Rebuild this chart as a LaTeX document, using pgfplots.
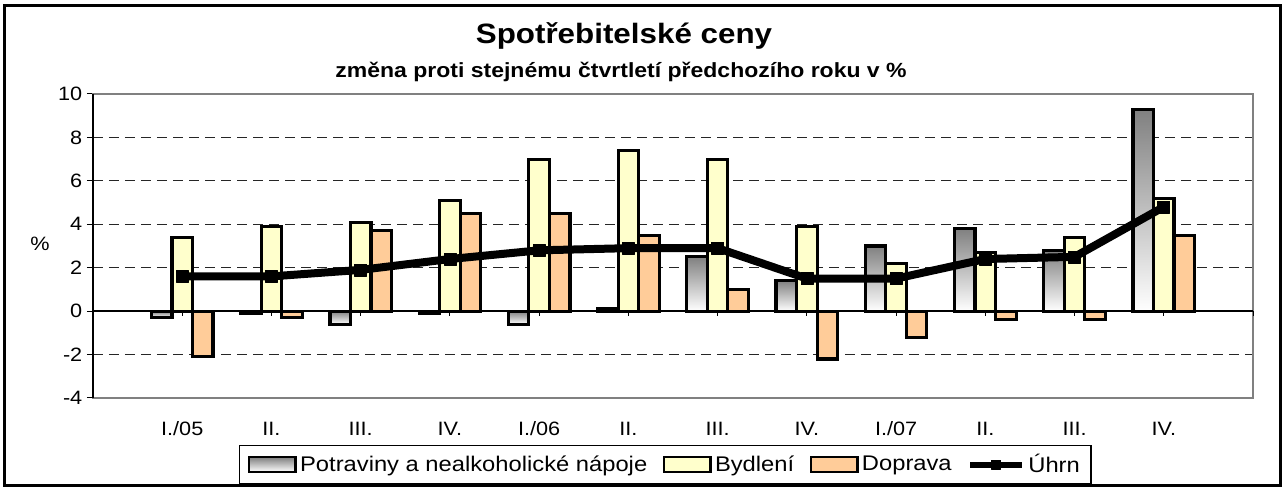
\documentclass[border=0pt]{standalone}
\usepackage{pgfplots}
\pgfplotsset{compat=1.18}
\usepackage{fontspec}
\setmainfont{Liberation Sans}[FakeStretch=1.12]
\definecolor{barY}{RGB}{255,255,204}
\definecolor{barO}{RGB}{255,204,153}
\definecolor{bord}{RGB}{128,128,128}
\pgfplotsset{
  barleg/.style={legend image code/.code={\draw[##1,line width=1.8pt] (0pt,-5.5pt) rectangle (35pt,5.5pt);}},
  lineleg/.style={legend image code/.code={\draw[##1, line width=4.5pt, mark size=3.5pt, mark repeat=2, mark phase=2] plot coordinates {(0pt,0pt) (19.5pt,0pt) (39pt,0pt)};}},
  gbar/.style={ybar, bar width=0.23, bar shift=-0.23, draw=black, line width=2.4pt,
    top color=bord, bottom color=white, forget plot},
  ybarb/.style={ybar, bar width=0.23, bar shift=0, draw=black, line width=2.4pt,
    fill=barY, forget plot},
  obar/.style={ybar, bar width=0.23, bar shift=0.23, draw=black, line width=2.4pt,
    fill=barO, forget plot},
}
\begin{document}
\begin{tikzpicture}
\useasboundingbox (-69.75pt,-67.5pt) rectangle (891.75pt,298.5pt);
\draw[line width=2.25pt] (-66pt,-66pt) rectangle (890.25pt,294pt);
\begin{axis}[
  at={(0pt,0pt)}, anchor=south west, scale only axis,
  width=870pt, height=228pt,
  xmin=-1, xmax=12, ymin=-4, ymax=10,
  ytick={-4,-2,...,10},
  xtick={0,...,11},
  xticklabels={I./05,II.,III.,IV.,I./06,II.,III.,IV.,I./07,II.,III.,IV.},
  xtick style={draw=none},
  ytick style={black, line width=0.75pt},
  major tick length=4.5pt, tick align=outside,
  ytick pos=left, xtick pos=bottom,
  /pgf/number format/assume math mode=true,
  tick label style={font=\fontsize{14.5}{17}\selectfont},
  xticklabel style={anchor=base, yshift=-24pt},
  ymajorgrids,
  major grid style={black!85, line width=0.75pt, dash pattern=on 7.5pt off 4.5pt},
  axis line style={bord, line width=1.5pt},
  clip=false,
  legend style={at={(0.4935,-0.2188)}, anchor=center, draw=black, line width=1.1pt,
    font=\fontsize{15.9}{19}\selectfont,
    /tikz/every even column/.append style={column sep=9pt},
    inner xsep=6pt, inner ysep=4pt, nodes={inner sep=2.5pt}},
  legend columns=4, legend cell align=left,
]
\draw[black, line width=1.1pt] (axis cs:-1,0) -- (axis cs:12,0);
\pgfplotsinvokeforeach{0,...,12}{\draw[black,line width=0.75pt] (axis cs:#1,0) -- ([yshift=-3.5pt]axis cs:#1,0);}
\draw[black, line width=1.5pt] (rel axis cs:0,0) -- (rel axis cs:0,1);

% Potraviny a nealkoholicke napoje (one plot per bar: each bar has its own shading)
\addplot[gbar] coordinates {(0,-0.3)};
\addplot[gbar] coordinates {(1,-0.1)};
\addplot[gbar] coordinates {(2,-0.6)};
\addplot[gbar] coordinates {(3,-0.1)};
\addplot[gbar] coordinates {(4,-0.6)};
\addplot[gbar] coordinates {(5,0.1)};
\addplot[gbar] coordinates {(6,2.5)};
\addplot[gbar] coordinates {(7,1.4)};
\addplot[gbar] coordinates {(8,3.0)};
\addplot[gbar] coordinates {(9,3.8)};
\addplot[gbar] coordinates {(10,2.8)};
\addplot[gbar] coordinates {(11,9.3)};
% Bydleni
\addplot[ybarb] coordinates {(0,3.4)};
\addplot[ybarb] coordinates {(1,3.9)};
\addplot[ybarb] coordinates {(2,4.1)};
\addplot[ybarb] coordinates {(3,5.1)};
\addplot[ybarb] coordinates {(4,7.0)};
\addplot[ybarb] coordinates {(5,7.4)};
\addplot[ybarb] coordinates {(6,7.0)};
\addplot[ybarb] coordinates {(7,3.9)};
\addplot[ybarb] coordinates {(8,2.2)};
\addplot[ybarb] coordinates {(9,2.7)};
\addplot[ybarb] coordinates {(10,3.4)};
\addplot[ybarb] coordinates {(11,5.2)};
% Doprava
\addplot[obar] coordinates {(0,-2.1)};
\addplot[obar] coordinates {(1,-0.3)};
\addplot[obar] coordinates {(2,3.7)};
\addplot[obar] coordinates {(3,4.5)};
\addplot[obar] coordinates {(4,4.5)};
\addplot[obar] coordinates {(5,3.5)};
\addplot[obar] coordinates {(6,1.0)};
\addplot[obar] coordinates {(7,-2.2)};
\addplot[obar] coordinates {(8,-1.2)};
\addplot[obar] coordinates {(9,-0.4)};
\addplot[obar] coordinates {(10,-0.4)};
\addplot[obar] coordinates {(11,3.5)};

\addlegendimage{ybar, draw=black, top color=bord, bottom color=white, barleg}
\addlegendentry{Potraviny a nealkoholické nápoje}
\addlegendimage{ybar, draw=black, fill=barY, barleg}
\addlegendentry{Bydlení}
\addlegendimage{ybar, draw=black, fill=barO, barleg}
\addlegendentry{Doprava}
\addplot[black, line width=6pt, line join=round, sharp plot, mark=square*, mark size=4.5pt,
  mark options={solid, line width=0.5pt}, lineleg] coordinates {
  (0,1.6) (1,1.6) (2,1.9) (3,2.4) (4,2.8) (5,2.9)
  (6,2.9) (7,1.5) (8,1.5) (9,2.4) (10,2.5) (11,4.8)};
\addlegendentry{Úhrn}
\end{axis}
\node[anchor=base, font=\bfseries\fontsize{21}{25}\selectfont] at (398.25pt,265.5pt) {Spotřebitelské ceny};
\node[anchor=base, font=\bfseries\fontsize{15.4}{18}\selectfont] at (396pt,240pt) {změna proti stejnému čtvrtletí předchozího roku v \%};
\node[font=\fontsize{14.5}{17}\selectfont] at (-39.75pt,115.5pt) {\%};
\end{tikzpicture}
\end{document}
